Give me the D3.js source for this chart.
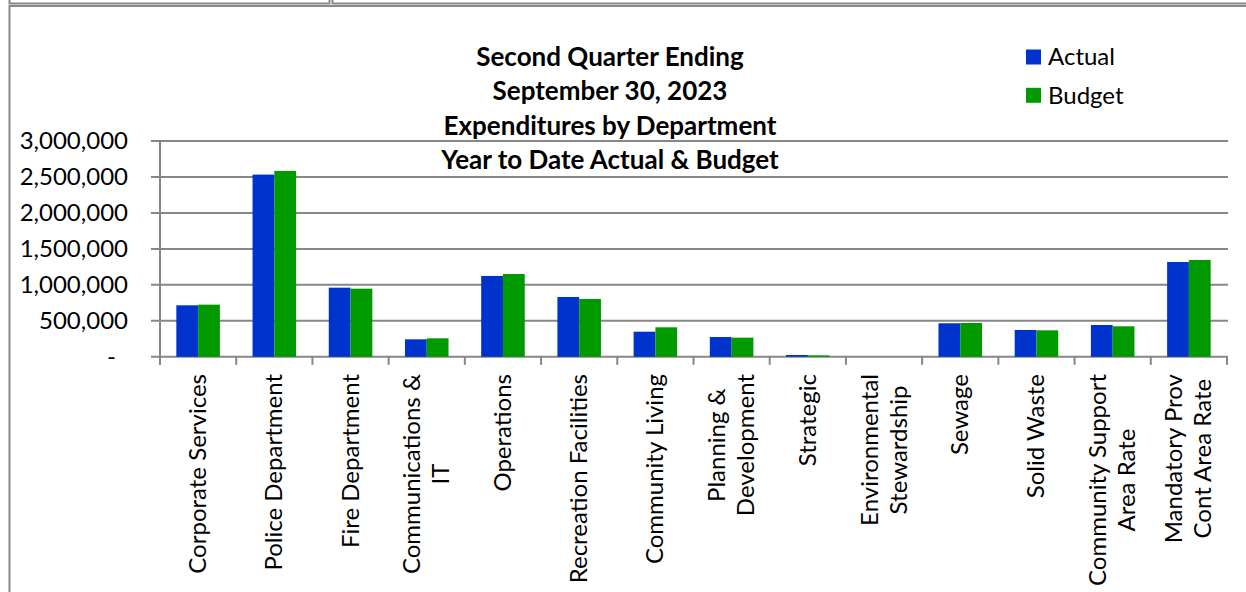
<!DOCTYPE html>
<html>
<head>
<meta charset="utf-8">
<script src="https://cdn.jsdelivr.net/npm/d3@7"></script>
<style>
  body { margin: 0; background: #fff; }
  svg { display: block; font-family: Lato, "Open Sans", sans-serif; }
</style>
</head>
<body>
<div id="chart"></div>
<script>
var w = 1246;
var h = 592;

// Data
var departments = [
    "Corporate Services", "Police Department", "Fire Department", "Communications &\nIT",
    "Operations", "Recreation Facilities", "Community Living", "Planning &\nDevelopment",
    "Strategic", "Environmental\nStewardship", "Sewage", "Solid Waste",
    "Community Support\nArea Rate", "Mandatory Prov\nCont Area Rate"
];
var actual = [716000, 2533000, 961000, 243000, 1124000, 832000, 349000, 275000, 25000, 0, 466000, 373000, 442000, 1318000];
var budget = [725000, 2584000, 947000, 257000, 1151000, 804000, 410000, 266000, 20000, 0, 470000, 368000, 424000, 1346000];
var seriesNames = ["Actual", "Budget"];
var yTicks = [0, 500000, 1000000, 1500000, 2000000, 2500000, 3000000];
var titleLines = ["Second Quarter Ending", "September 30, 2023", "Expenditures by Department", "Year to Date Actual & Budget"];

var color = d3.scaleOrdinal()
              .domain(seriesNames)
              .range(["#0033cc", "#009900"]);

var svg = d3.select("#chart")
            .append("svg")
            .attr("width", w)
            .attr("height", h);

// spreadsheet cell borders behind the chart
svg.append("path")
   .attr("d", "M9.5,0V3.5H329.5V0 M332.5,0V3.5H1246 M9.5,592V6H1246")
   .attr("fill", "none")
   .attr("stroke", "#8a8a8a")
   .attr("stroke-width", 2);

var plotLeft = 160, plotRight = 1227, plotTop = 141, plotBottom = 356.8;

var x0 = d3.scaleBand()
           .domain(d3.range(departments.length))
           .range([plotLeft, plotRight])
           .padding(0);

var x1 = d3.scaleBand()
           .domain(seriesNames)
           .range([0, x0.bandwidth()])
           .paddingInner(0)
           .paddingOuter(0.75);

var yScale = d3.scaleLinear()
               .domain([0, 3000000])
               .range([plotBottom, plotTop]);

// gridlines
svg.append("g")
   .selectAll("line")
   .data(yTicks)
   .enter()
   .append("line")
   .attr("x1", plotLeft - 9)
   .attr("x2", plotRight + 1)
   .attr("y1", function(d) { return yScale(d); })
   .attr("y2", function(d) { return yScale(d); })
   .attr("stroke", "#878787")
   .attr("stroke-width", 2);

// y axis line
svg.append("line")
   .attr("x1", plotLeft).attr("x2", plotLeft)
   .attr("y1", plotTop).attr("y2", plotBottom + 8)
   .attr("stroke", "#878787")
   .attr("stroke-width", 2);

// x category tick marks
svg.append("g")
   .selectAll("line")
   .data(d3.range(departments.length + 1))
   .enter()
   .append("line")
   .attr("x1", function(i) { return plotLeft + i * x0.step(); })
   .attr("x2", function(i) { return plotLeft + i * x0.step(); })
   .attr("y1", plotBottom)
   .attr("y2", plotBottom + 8)
   .attr("stroke", "#878787")
   .attr("stroke-width", 2);

// y tick labels
svg.append("g")
   .selectAll("text")
   .data(yTicks)
   .enter()
   .append("text")
   .attr("x", function(d) { return d === 0 ? 116 : 128; })
   .attr("y", function(d) { return yScale(d); })
   .attr("dy", "0.35em")
   .attr("text-anchor", "end")
   .style("font-size", "24px")
   .style("fill", "#000")
   .text(function(d) { return d === 0 ? "-" : d3.format(",")(d); });

// bars
var table = departments.map(function(d, i) {
    return { i: i, values: [
        { key: "Actual", value: actual[i] },
        { key: "Budget", value: budget[i] }
    ] };
});

var groups = svg.append("g")
                .selectAll("g")
                .data(table)
                .enter()
                .append("g")
                .attr("transform", function(d) { return "translate(" + x0(d.i) + ",0)"; });

groups.selectAll("rect")
      .data(function(d) { return d.values; })
      .enter()
      .append("rect")
      .attr("x", function(d) { return x1(d.key); })
      .attr("y", function(d) { return yScale(d.value); })
      .attr("width", x1.bandwidth())
      .attr("height", function(d) { return yScale(0) - yScale(d.value); })
      .attr("fill", function(d) { return color(d.key); });

// rotated category labels
var labels = svg.append("g")
                .selectAll("g")
                .data(departments)
                .enter()
                .append("g");

labels.each(function(d, i) {
    var g = d3.select(this);
    var lines = d.split("\n");
    var lh = 29;
    var cx = x0(i) + x0.bandwidth() / 2;
    var texts = lines.map(function(t) {
        return g.append("text")
                .attr("text-anchor", "middle")
                .style("font-size", "24px")
                .style("fill", "#000")
                .text(t);
    });
    var maxLen = d3.max(texts, function(t) { return t.node().getComputedTextLength(); });
    var cy = 374 + maxLen / 2;
    texts.forEach(function(t, k) {
        var off = (k - (lines.length - 1) / 2) * lh;
        t.attr("transform", "translate(" + (cx + off + 8) + "," + cy + ") rotate(-90)");
    });
});

// title
svg.append("g")
   .selectAll("text")
   .data(titleLines)
   .enter()
   .append("text")
   .attr("x", 610)
   .attr("y", function(d, i) { return 57 + i * 34.3; })
   .attr("dy", "0.35em")
   .attr("text-anchor", "middle")
   .style("font-size", "26px")
   .style("font-weight", "bold")
   .style("fill", "#000")
   .text(function(d) { return d; });

// legend
var legend = svg.append("g")
                .selectAll("g")
                .data(seriesNames)
                .enter()
                .append("g")
                .attr("transform", function(d, i) { return "translate(1026," + (49.5 + i * 38.3) + ")"; });

legend.append("rect")
      .attr("width", 15)
      .attr("height", 15)
      .attr("fill", function(d) { return color(d); });

legend.append("text")
      .attr("x", 22)
      .attr("y", 7.5)
      .attr("dy", "0.35em")
      .style("font-size", "24px")
      .style("fill", "#000")
      .text(function(d) { return d; });
</script>
</body>
</html>
